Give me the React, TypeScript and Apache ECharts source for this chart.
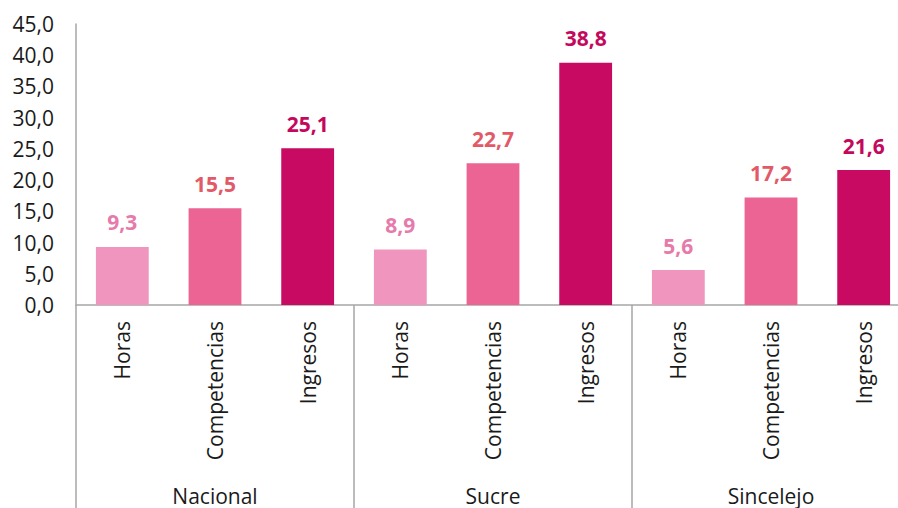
import React, { useEffect, useRef } from "react";
import * as echarts from "echarts";

const groups = ["Nacional", "Sucre", "Sincelejo"];
const measures = ["Horas", "Competencias", "Ingresos"];
const nacional = [9.3, 15.5, 25.1];
const sucre = [8.9, 22.7, 38.8];
const sincelejo = [5.6, 17.2, 21.6];
const yTicks = [0, 5, 10, 15, 20, 25, 30, 35, 40, 45];

const barColors = ["#F096BE", "#EC6493", "#C90A62"];
const labelColors = ["#E67AAA", "#E25A68", "#C4085C"];

const fmt = (v: number) => v.toFixed(1).replace(".", ",");

export default function App() {
  const ref = useRef<HTMLDivElement>(null);
  useEffect(() => {
    if (!ref.current) return;
    const chart = echarts.init(ref.current, undefined, { renderer: "svg" });
    const values = [nacional, sucre, sincelejo];
    const cats: string[] = [];
    const data: any[] = [];
    values.forEach((g) => {
      g.forEach((v, i) => {
        cats.push(measures[i]);
        data.push({
          value: v,
          itemStyle: { color: barColors[i] },
          label: { color: labelColors[i] },
        });
      });
    });
    const font = "'Open Sans', 'Noto Sans', sans-serif";
    chart.setOption({
      animation: false,
      backgroundColor: "#ffffff",
      textStyle: { fontFamily: font },
      grid: { left: 76, top: 24, right: 12, bottom: 203, containLabel: false },
      xAxis: [
        {
          type: "category",
          data: cats,
          position: "bottom",
          axisLine: { show: true, lineStyle: { color: "#A6A6A6", width: 1.5 } },
          axisTick: { show: false },
          axisLabel: {
            interval: 0,
            rotate: 90,
            margin: 16,
            fontSize: 21,
            color: "#1a1a1a",
            fontFamily: font,
          },
        },
        {
          type: "category",
          data: groups,
          position: "bottom",
          axisLine: { show: false },
          axisTick: {
            show: true,
            interval: 0,
            length: 203,
            lineStyle: { color: "#A6A6A6", width: 1.5 },
          },
          axisLabel: {
            interval: 0,
            margin: 180,
            fontSize: 21,
            color: "#1a1a1a",
            fontFamily: font,
          },
        },
      ],
      yAxis: {
        type: "value",
        min: 0,
        max: 45,
        interval: 5,
        axisLine: { show: true, lineStyle: { color: "#A6A6A6", width: 1.5 } },
        axisTick: { show: false },
        splitLine: { show: false },
        axisLabel: {
          margin: 22,
          fontSize: 21,
          color: "#1a1a1a",
          fontFamily: font,
          formatter: (v: number) => (yTicks.includes(v) ? fmt(v) : ""),
        },
      },
      series: [
        {
          type: "bar",
          xAxisIndex: 0,
          data,
          barWidth: "57%",
          label: {
            show: true,
            position: "top",
            distance: 14,
            fontSize: 21,
            fontWeight: "bold",
            fontFamily: font,
            formatter: (p: any) => fmt(p.value),
          },
        },
      ],
    });
    return () => chart.dispose();
  }, []);
  return (
    <div
      ref={ref}
      style={{ position: "fixed", left: 0, top: 0, width: 922, height: 508, background: "#fff" }}
    />
  );
}
